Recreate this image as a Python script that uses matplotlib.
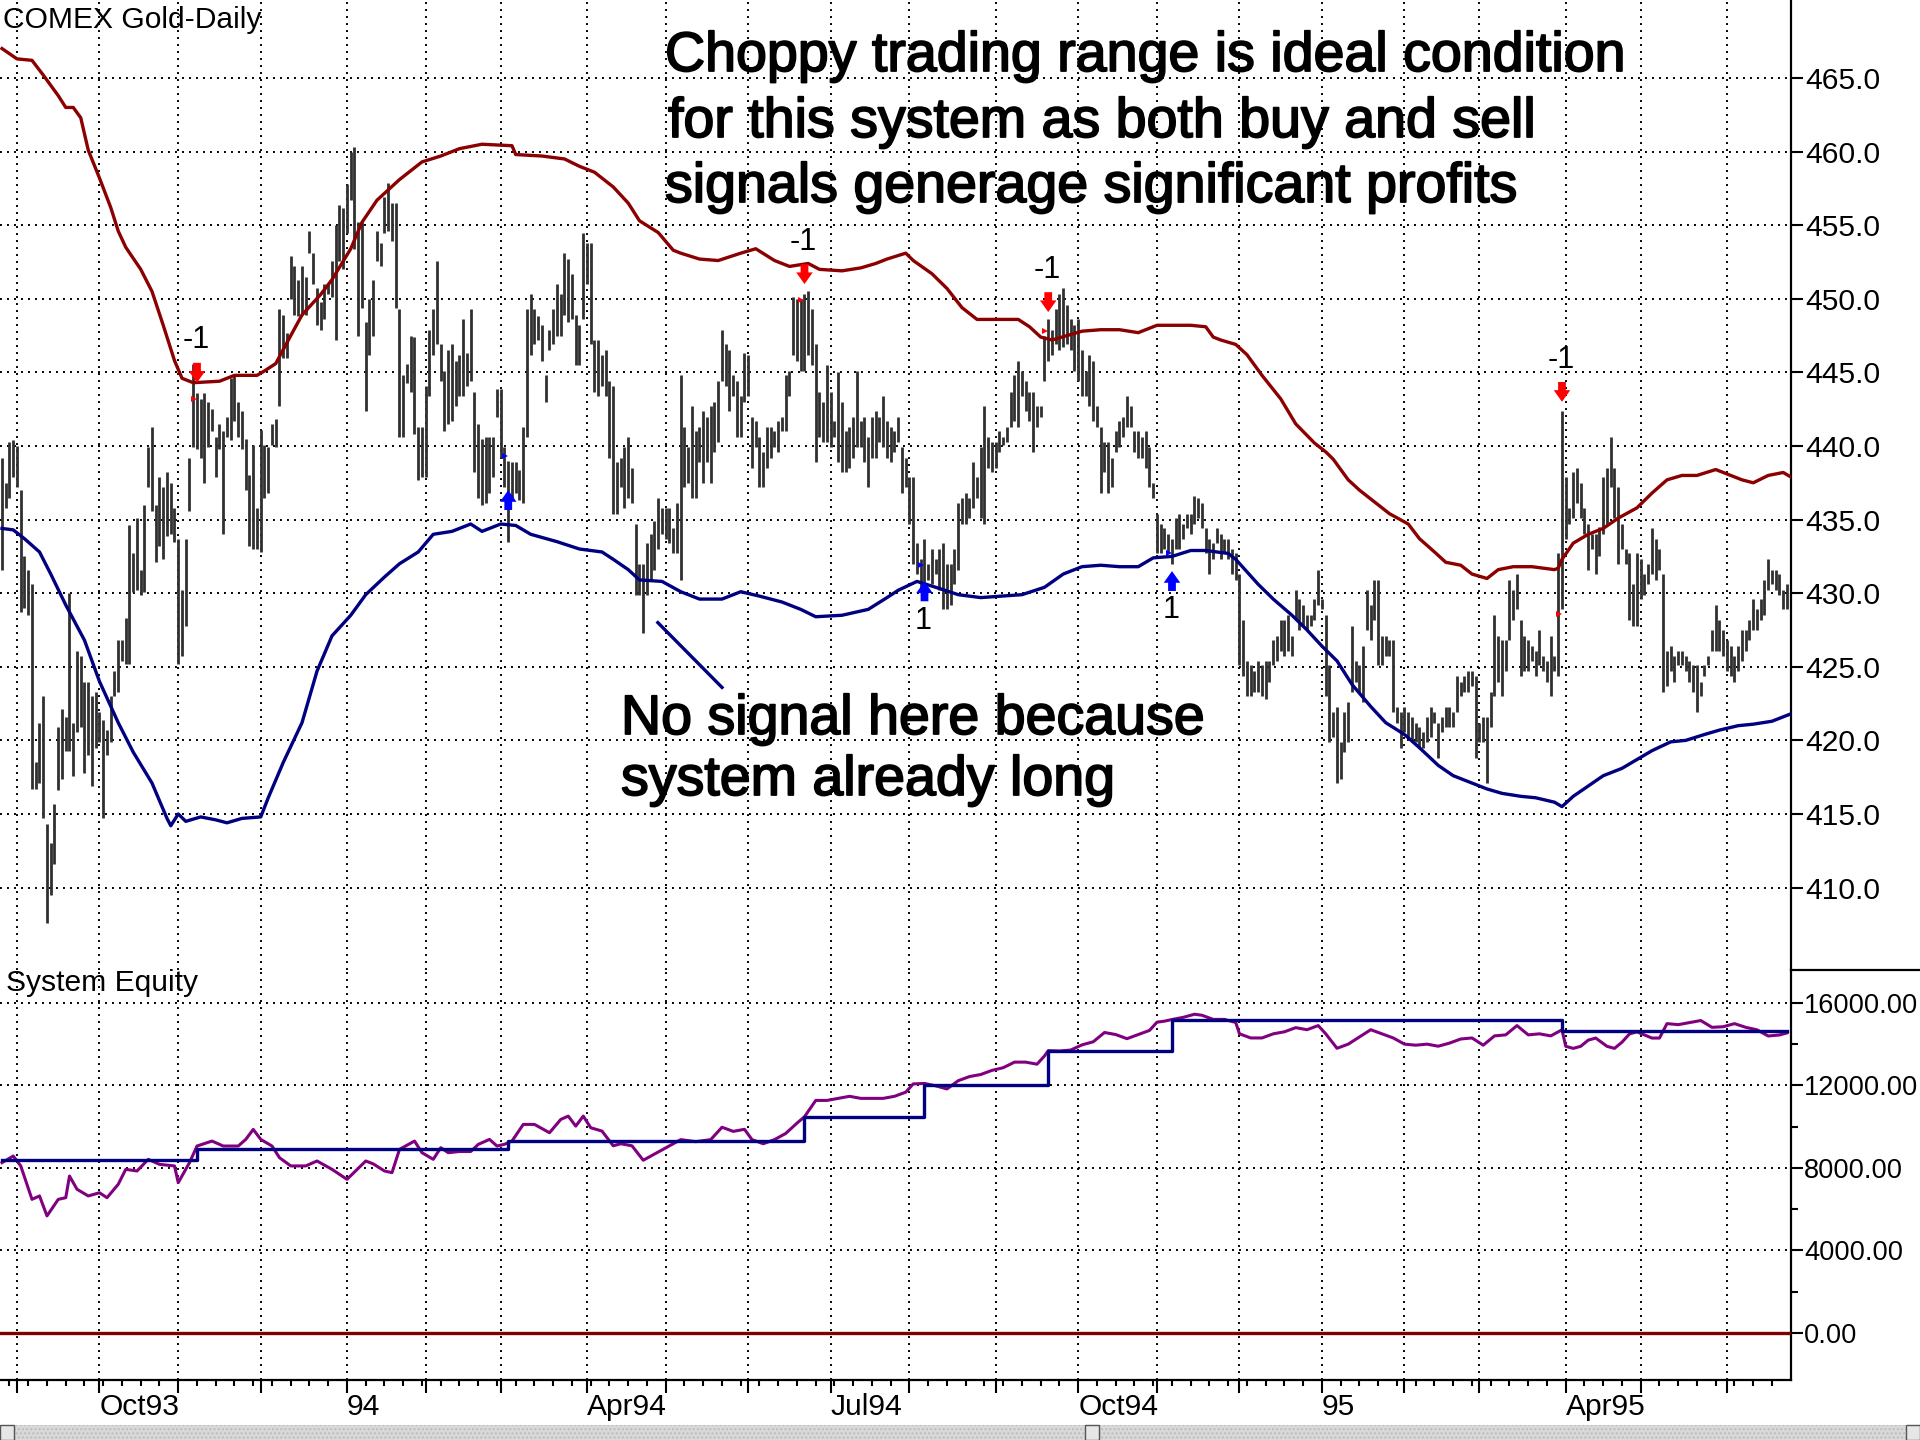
# COMEX gold daily bars with band system signals and system equity panel
import numpy as np
import pandas as pd
import matplotlib
matplotlib.use("Agg")
import matplotlib.pyplot as plt
import matplotlib.patheffects as pe
from matplotlib.lines import Line2D
from matplotlib.patches import Rectangle

plt.rcParams['font.family'] = ['Liberation Sans', 'DejaVu Sans']

start_date = '1993-08-26'

# daily highs and lows, one row per month
high = [
    439.2, 437.5, 440.3, 440.4,
    440.0, 437.0, 432.5, 431.6, 430.6, 418.5, 421.2, 423.0, 414.3, 413.0, 415.7, 420.9, 422.1, 421.6, 430.0, 421.2, 426.1, 425.7, 424.0, 424.0, 423.0, 423.3,
    421.9, 421.4, 420.7, 423.0, 424.7, 426.8, 426.8, 428.3, 434.6, 432.7, 435.1, 431.6, 436.0, 439.9, 441.3, 436.0, 437.9, 437.2, 438.2, 437.5, 435.8,
    433.7, 430.2, 433.7, 439.2, 445.6, 443.6, 443.2, 443.6, 443.0, 442.5, 440.6, 441.5, 441.0, 442.0, 444.6, 444.8, 443.0, 442.4, 440.5, 438.0, 440.1, 435.8,
    441.1, 440.1, 439.9, 441.5, 441.8, 449.3, 448.9, 447.7, 452.9, 452.2, 451.3, 452.2, 451.5, 454.6, 453.1, 450.7, 449.8, 451.0, 451.0, 452.6, 455.0, 456.4, 456.2,
    457.8, 460.0, 460.3, 455.2, 455.2, 448.4, 450.0, 451.3, 454.6, 453.8, 456.9, 457.9, 456.5, 456.5, 449.3, 444.8, 445.6, 447.5, 447.4, 441.3, 441.3,
    444.1, 447.9, 449.3, 452.6, 446.9, 445.1, 446.5, 446.9, 445.8, 446.2, 448.6, 446.3, 449.3, 443.7, 441.5, 440.5, 440.6, 440.6, 440.6, 443.9,
    443.9, 439.9, 439.0, 438.9, 438.9, 438.4, 441.3, 449.3, 450.3, 449.3, 448.8, 448.2, 444.8, 447.9, 449.3, 451.0, 450.3, 453.1, 452.7, 451.7, 448.9, 448.2, 454.5,
    453.8, 453.8, 447.2, 447.2, 446.2, 446.5, 444.4, 444.1, 438.9, 439.2, 439.9, 440.6, 438.5, 434.7, 432.0, 432.0, 433.4, 434.0, 434.9, 436.5, 435.8,
    435.8, 435.8, 434.4, 436.1, 444.8, 441.3, 439.9, 442.7, 441.0, 441.3, 442.4, 442.0, 442.7, 443.0, 444.4, 447.9, 446.9, 446.5, 444.8, 444.4, 443.4, 446.3,
    446.2, 442.0, 441.7, 440.6, 439.6, 441.3, 441.3, 441.0, 441.7, 442.0, 444.8, 445.1, 450.1, 450.0, 450.0, 450.3, 450.5, 449.3, 446.9, 443.7, 443.0, 445.5,
    443.7, 441.7, 445.0, 443.0, 441.0, 441.3, 442.0, 445.1, 441.7, 442.0, 440.6, 442.0, 442.4, 442.0, 443.4, 441.7, 441.3, 441.0, 442.0, 439.9, 439.2,
    437.9, 437.9, 433.4, 432.3, 433.7, 432.0, 433.0, 432.3, 433.0, 433.4, 432.0, 432.0, 433.0, 436.1, 436.5, 436.8, 436.5, 438.9, 437.9, 439.9, 442.7, 440.6, 440.3,
    440.3, 441.0, 440.6, 441.3, 443.7, 444.8, 445.8, 445.1, 444.4, 443.7, 443.7, 442.7, 442.7, 447.5, 448.6, 447.9, 449.3, 450.3, 450.7, 449.6, 448.6, 448.2,
    448.6, 446.5, 445.1, 446.2, 445.8, 442.7, 441.3, 440.3, 440.3, 439.2, 441.0, 441.7, 442.0, 443.4, 442.7, 441.0, 441.0, 440.6, 441.0, 439.9, 437.5,
    435.4, 434.7, 434.4, 434.0, 433.7, 435.1, 435.4, 434.7, 435.4, 435.4, 436.6, 436.5, 436.1, 434.4, 433.7, 433.4, 434.4, 434.0, 433.7, 433.7, 433.0, 432.7,
    431.3, 428.2, 425.4, 425.1, 424.7, 425.4, 425.1, 425.4, 425.4, 426.8, 427.1, 428.2, 428.2, 428.5, 427.1, 430.2, 429.6, 429.2, 428.5, 428.5, 429.6, 431.6,
    429.6, 428.5, 425.1, 421.9, 422.3, 419.9, 421.9, 422.6, 427.8, 425.4, 425.1, 426.4, 430.2, 429.2, 430.9, 430.9, 427.1, 427.1, 426.8, 426.8, 422.3, 421.9,
    422.3, 421.9, 421.6, 421.2, 420.9, 420.6, 421.6, 422.3, 421.9, 421.2, 421.6, 422.3, 422.3, 421.9, 424.4, 424.0, 424.4, 424.7, 424.7, 424.4,
    421.2, 421.6, 421.6, 423.3, 428.5, 427.1, 426.8, 426.8, 430.9, 430.2, 431.3, 428.2, 427.1, 426.8, 426.4, 426.1, 427.5, 425.7, 425.4, 427.1, 425.7, 432.7, 442.4,
    437.9, 435.8, 438.2, 438.5, 437.5, 435.8, 434.7, 434.0, 434.0, 434.5, 437.9, 438.5, 440.6, 438.5, 437.2, 434.7, 433.0, 432.7, 430.6, 432.7,
    432.3, 431.3, 432.0, 434.4, 433.7, 433.0, 431.3, 426.1, 426.4, 425.7, 426.1, 426.1, 425.7, 425.4, 425.1, 425.1, 424.0, 425.1, 425.7, 427.5, 429.2, 428.2, 427.5,
    426.8, 426.4, 425.7, 426.4, 427.5, 427.5, 428.2, 429.6, 428.9, 429.6, 430.9, 432.3, 431.6, 431.6, 431.3, 430.2, 430.6,
]
low = [
    431.6, 435.8, 436.5, 437.9,
    437.2, 428.7, 429.0, 428.5, 416.7, 416.7, 417.1, 414.7, 407.6, 409.5, 411.6, 416.6, 417.4, 419.3, 419.3, 417.6, 420.6, 420.9, 417.8, 419.0, 416.9, 419.5,
    419.9, 414.7, 419.0, 419.9, 423.0, 423.3, 425.4, 425.2, 425.2, 430.1, 430.2, 429.9, 430.1, 437.2, 435.6, 432.1, 433.2, 432.3, 433.9, 434.0, 433.5,
    425.2, 425.7, 427.8, 435.6, 439.9, 439.8, 439.2, 437.5, 439.9, 441.0, 437.9, 439.8, 434.0, 440.6, 440.4, 441.7, 440.6, 439.8, 437.0, 433.2, 433.0, 433.0,
    432.8, 436.5, 436.8, 440.1, 439.9, 442.7, 446.0, 446.0, 450.0, 448.9, 448.8, 448.9, 448.9, 453.1, 451.0, 448.2, 447.9, 448.6, 450.3, 450.1, 447.2, 452.6, 452.0,
    454.5, 456.7, 453.4, 447.5, 449.4, 442.4, 446.2, 447.5, 452.6, 452.2, 454.5, 454.6, 453.9, 449.4, 440.6, 440.6, 444.3, 443.7, 440.8, 437.7, 437.9,
    437.9, 443.4, 446.2, 446.9, 444.4, 441.0, 441.5, 441.7, 442.7, 443.4, 443.4, 444.1, 444.4, 438.2, 436.5, 436.0, 436.1, 436.8, 437.9, 442.0,
    439.2, 437.2, 433.5, 436.5, 436.8, 436.3, 436.1, 440.6, 446.2, 446.9, 447.2, 445.8, 443.0, 446.5, 446.9, 447.5, 447.5, 448.9, 448.4, 448.6, 445.5, 445.5, 448.6,
    451.0, 446.9, 443.7, 443.4, 444.1, 443.4, 439.2, 435.4, 435.4, 437.2, 435.8, 436.5, 436.1, 429.9, 429.9, 427.3, 429.9, 430.9, 431.6, 433.0, 434.0,
    433.7, 433.4, 432.7, 432.7, 430.9, 437.2, 437.5, 436.5, 436.5, 438.9, 437.5, 438.9, 437.5, 439.6, 440.3, 444.4, 444.1, 442.4, 443.4, 440.6, 440.6, 443.0,
    443.4, 438.5, 439.9, 437.2, 437.2, 438.5, 439.2, 439.9, 439.6, 441.0, 441.0, 443.4, 446.2, 445.8, 445.1, 445.1, 446.2, 445.5, 438.9, 440.6, 440.3, 440.3,
    439.9, 440.6, 438.9, 438.2, 438.2, 438.5, 439.2, 439.9, 439.9, 438.9, 437.2, 439.2, 439.2, 440.3, 439.9, 439.2, 438.9, 439.6, 440.3, 436.8, 437.2,
    434.7, 432.0, 431.3, 430.2, 430.2, 430.9, 430.6, 431.3, 430.2, 428.9, 428.9, 429.2, 430.6, 431.6, 434.7, 434.7, 435.1, 435.8, 436.5, 435.1, 434.7, 438.5, 438.2,
    438.5, 439.6, 440.1, 440.3, 441.3, 441.7, 441.3, 443.4, 442.4, 441.7, 439.6, 441.3, 442.0, 444.4, 445.8, 446.2, 446.9, 446.5, 446.7, 446.9, 446.5, 445.1,
    444.4, 443.4, 443.4, 442.7, 441.7, 441.3, 436.8, 438.2, 436.8, 437.2, 439.6, 439.9, 440.6, 441.3, 441.3, 439.6, 439.2, 439.2, 438.5, 437.2, 436.5,
    432.7, 432.7, 433.0, 432.7, 432.0, 433.0, 433.0, 433.7, 434.4, 434.0, 434.7, 435.1, 434.4, 432.7, 431.3, 432.3, 433.4, 432.3, 432.7, 432.3, 431.3, 430.9,
    425.1, 424.4, 423.0, 423.0, 423.3, 423.3, 423.0, 422.8, 424.0, 425.1, 425.4, 426.1, 425.7, 426.1, 425.7, 428.2, 427.5, 427.8, 427.5, 427.8, 428.2, 429.2,
    428.9, 423.0, 419.9, 420.2, 417.1, 417.4, 419.2, 419.9, 423.3, 424.0, 423.3, 422.6, 427.5, 426.8, 428.2, 425.1, 425.1, 425.7, 425.7, 421.9, 421.2, 419.5,
    420.6, 420.2, 419.9, 419.9, 419.5, 419.5, 419.9, 420.2, 421.2, 418.8, 420.6, 420.9, 420.9, 420.9, 421.9, 423.0, 423.3, 423.3, 423.7, 418.8,
    419.9, 419.9, 417.1, 420.9, 423.0, 424.0, 423.0, 424.7, 426.8, 428.2, 428.9, 424.4, 424.7, 424.7, 425.4, 424.4, 425.1, 424.7, 424.0, 423.0, 424.7, 424.4, 428.9,
    433.7, 434.7, 435.1, 436.1, 435.1, 434.0, 431.6, 433.0, 431.3, 432.5, 434.0, 434.7, 437.2, 435.1, 432.0, 433.0, 432.0, 428.2, 427.8, 427.8,
    429.6, 429.9, 430.6, 431.3, 430.9, 431.6, 423.3, 423.7, 424.7, 424.0, 425.1, 425.1, 424.7, 424.0, 423.3, 421.9, 423.0, 424.4, 425.1, 426.1, 426.1, 426.1, 425.7,
    424.7, 424.4, 424.0, 424.7, 425.4, 426.1, 426.8, 427.5, 427.5, 428.2, 428.5, 430.2, 430.6, 430.2, 429.9, 428.9, 428.9,
]

# upper band (dark red) and lower band (navy), sampled on bar numbers
upper_idx = [0, 4, 8, 11, 15, 17, 19, 21, 23, 26, 29, 31, 33, 37, 40, 43, 46, 48, 51, 58, 62, 68, 70, 73, 77,
             80, 85, 88, 93, 96, 100, 106, 112, 117, 122, 128, 136, 137, 144, 150, 154, 158, 163, 167, 170,
             175, 179, 181, 186, 191, 197, 201, 206, 210, 215, 218, 224, 229, 233, 236, 241, 243, 248, 252,
             256, 260, 265, 271, 274, 277, 280, 284, 288, 293, 298, 303, 308, 312, 317, 321, 323, 325, 329,
             332, 336, 341, 345, 350, 353, 355, 359, 362, 367, 370, 375, 378, 382, 385, 389, 392, 396, 399,
             403, 408, 414, 415, 416, 419, 423, 427, 431, 436, 440, 444, 448, 452, 457, 461, 464, 467, 471, 475, 477]
upper_val = [467.0, 466.3, 466.2, 465.2, 463.8, 463.0, 463.0, 462.3, 460.1, 458.2, 456.2, 454.6, 453.5, 452.0, 450.5,
             448.2, 445.8, 444.6, 444.3, 444.4, 444.8, 444.8, 445.1, 445.6, 447.5, 448.9, 450.3, 451.3, 453.4, 455.2,
             456.7, 458.1, 459.3, 459.7, 460.2, 460.5, 460.4, 459.8, 459.7, 459.5, 459.0, 458.6, 457.6, 456.5, 455.3,
             454.5, 453.3, 453.1, 452.7, 452.6, 453.1, 453.4, 452.6, 452.2, 452.4, 452.0, 451.9, 452.1, 452.4, 452.7,
             453.1, 452.6, 451.7, 450.7, 449.4, 448.6, 448.6, 448.6, 448.1, 447.4, 447.2, 447.5, 447.8, 447.9, 447.9,
             447.7, 448.2, 448.2, 448.2, 448.1, 447.4, 447.2, 446.9, 446.2, 444.8, 443.2, 441.5, 440.2, 439.6, 439.1,
             437.7, 437.0, 436.0, 435.4, 434.7, 433.7, 432.8, 432.1, 431.9, 431.3, 431.0, 431.6, 431.8, 431.8, 431.6,
             431.7, 432.3, 433.4, 434.0, 434.4, 435.1, 435.8, 436.8, 437.7, 438.0, 438.0, 438.4, 438.0, 437.7, 437.5,
             438.0, 438.2, 437.9]
lower_idx = [0, 3, 6, 10, 13, 17, 22, 26, 31, 35, 40, 44, 45, 47, 49, 53, 57, 60, 64, 69, 71, 75, 80, 84, 88,
             93, 97, 102, 106, 111, 115, 120, 125, 128, 133, 137, 141, 148, 154, 160, 163, 167, 170, 176, 181,
             186, 192, 197, 202, 208, 213, 217, 224, 231, 236, 239, 244, 249, 255, 261, 272, 278, 283, 288, 293,
             298, 303, 307, 312, 317, 321, 327, 329, 335, 339, 344, 348, 352, 356, 360, 365, 369, 374, 378, 383,
             387, 392, 396, 400, 405, 409, 414, 416, 419, 423, 427, 432, 436, 440, 445, 449, 454, 458, 463, 467,
             472, 477]
lower_val = [434.4, 434.3, 433.7, 432.8, 431.3, 429.2, 426.8, 424.0, 421.2, 419.2, 417.1, 414.7, 414.2, 415.0, 414.5,
             414.8, 414.6, 414.4, 414.7, 414.8, 416.1, 418.5, 421.2, 424.7, 427.1, 428.5, 429.9, 431.1, 432.0, 432.8,
             434.0, 434.2, 434.7, 434.2, 434.7, 434.6, 434.0, 433.5, 433.0, 432.8, 432.3, 431.6, 430.9, 430.8, 430.1,
             429.6, 429.6, 430.1, 429.8, 429.4, 428.9, 428.4, 428.5, 428.9, 429.7, 430.2, 430.8, 430.4, 429.9, 429.7,
             429.9, 430.4, 431.3, 431.8, 431.9, 431.8, 431.8, 432.4, 432.5, 432.9, 432.9, 432.7, 432.3, 430.6, 429.6,
             428.5, 427.5, 426.4, 425.4, 423.8, 422.3, 421.2, 420.4, 419.5, 418.3, 417.6, 417.1, 416.7, 416.4, 416.2,
             416.1, 415.8, 415.5, 416.2, 416.9, 417.6, 418.1, 418.7, 419.3, 419.9, 420.0, 420.4, 420.7, 421.0, 421.1,
             421.3, 421.8]

# system signals: bar number, entry price (small triangle) and arrow tip price
sell_idx = [52, 214, 279, 416]
sell_entry = [443.2, 449.9, 447.8, 428.6]
sell_arrow = [444.3, 451.0, 449.1, 443.0]
buy_idx = [135, 246, 312]
buy_entry = [439.3, 431.9, 432.7]
buy_arrow = [437.0, 430.8, 431.5]
buy_text = ['', '1', '1']

# open-trade equity (purple) and closed-trade equity (navy step)
eq_idx = [0, 3, 5, 8, 10, 12, 15, 17, 18, 20, 23, 26, 28, 31, 33, 36, 39, 42, 46, 47, 50, 52, 56, 59, 63,
          65, 67, 69, 72, 74, 77, 81, 84, 88, 92, 97, 99, 102, 104, 106, 110, 112, 115, 117, 119, 122, 125,
          127, 130, 132, 134, 136, 139, 142, 146, 149, 151, 153, 155, 157, 160, 163, 165, 168, 171, 173, 176,
          181, 185, 189, 192, 195, 198, 200, 203, 206, 209, 212, 214, 217, 220, 223, 226, 229, 232, 235, 238,
          241, 243, 246, 249, 252, 255, 258, 261, 264, 267, 270, 273, 276, 278, 279, 282, 285, 288, 291, 294,
          297, 300, 303, 306, 308, 310, 312, 315, 318, 320, 323, 326, 329, 330, 333, 336, 339, 342, 345, 348,
          351, 353, 356, 359, 362, 365, 368, 371, 374, 377, 380, 383, 386, 389, 392, 395, 398, 401, 404, 407,
          410, 413, 416, 417, 419, 421, 423, 425, 428, 430, 432, 434, 436, 438, 440, 442, 444, 447, 450, 453,
          456, 459, 462, 465, 468, 471, 474, 476]
eq_val = [8260, 8580, 8100, 6480, 6645, 5677, 6480, 6560, 7610, 6970, 6645, 6800, 6560, 7210, 7935, 7855, 8420,
          8177, 8100, 7290, 8260, 9065, 9306, 9065, 9065, 9387, 9871, 9387, 9065, 8500, 8100, 8100, 8340, 7935,
          7450, 8340, 8200, 7855, 7774, 8903, 9306, 8742, 8420, 8984, 8742, 8800, 8800, 9145, 9387, 9065, 9150,
          9306, 10113, 10113, 9710, 10355, 10516, 10032, 10516, 9952, 9790, 9076, 9176, 9076, 8376, 8576, 8876,
          9376, 9276, 9376, 9976, 9776, 9876, 9376, 9176, 9376, 9676, 10176, 10486, 11276, 11276, 11376, 11476,
          11376, 11376, 11376, 11476, 11676, 12076, 12100, 11983, 11833, 12233, 12433, 12533, 12733, 12863, 13133,
          13133, 13033, 13433, 13690, 13670, 13720, 13970, 14120, 14570, 14470, 14270, 14470, 14670, 15070, 15120,
          15200, 15305, 15455, 15405, 15205, 15205, 15055, 14505, 14305, 14305, 14505, 14605, 14805, 14705, 14905,
          14505, 13805, 14005, 14355, 14705, 14505, 14305, 14005, 13955, 14005, 13905, 14055, 14255, 14305, 13955,
          14405, 14455, 14905, 14455, 14505, 14405, 14700, 13900, 13800, 13900, 14200, 14300, 13900, 13800, 14100,
          14500, 14600, 14450, 14300, 14300, 15000, 14950, 15050, 15150, 14820, 14850, 15000, 14820, 14700, 14400,
          14450, 14550]
trade_idx = [0, 52, 135, 214, 246, 279, 312, 416, 476]
closed_eq = [8390, 8935, 9306, 10486, 12023, 13690, 15175, 14640, 14640]

W, H = 1920, 1440
PLOT_R = 1791
SEP_Y = 970
BOT_Y = 1380
FS = 21.6
RED = '#8b0000'
NAVY = '#000080'
GRID = dict(color='black', linestyle=(0, (1, 2.6)), linewidth=1.4)

dates = pd.bdate_range(start_date, periods=len(high))
x = np.arange(len(high))
new_month = np.r_[False, dates.month[1:] != dates.month[:-1]]
mondays = (dates.weekday == 0) & ~new_month
month_pos = x[new_month]
month_lab = []
for d in dates[new_month]:
    if d.month == 1:
        month_lab.append(d.strftime('%y'))
    elif d.month in (4, 7, 10):
        month_lab.append(d.strftime('%b%y'))
    else:
        month_lab.append('')

fig = plt.figure(figsize=(W / 100, H / 100), dpi=100)
ax1 = fig.add_axes([0, 1 - SEP_Y / H, PLOT_R / W, SEP_Y / H])
ax2 = fig.add_axes([0, 1 - BOT_Y / H, PLOT_R / W, (BOT_Y - SEP_Y) / H])
xlim = (-0.533, 477.07)

# ---- price panel
ax1.vlines(x, low, high, color='#303030', lw=2.0, zorder=3)
ax1.plot(upper_idx, upper_val, color=RED, lw=2.4, zorder=4)
ax1.plot(lower_idx, lower_val, color=NAVY, lw=2.4, zorder=4)

arrow_len = 1.35
astyle = 'simple,head_width=0.85,head_length=0.6,tail_width=0.4'
for i, e, t in zip(sell_idx, sell_entry, sell_arrow):
    ax1.annotate('', xy=(i, t), xytext=(i, t + arrow_len),
                 arrowprops=dict(arrowstyle=astyle, color='#ff0000', lw=0, shrinkA=0, shrinkB=0,
                                 mutation_scale=14), zorder=6)
    ax1.plot(i - 0.9, e, marker='>', color='#ff0000', ms=5, mew=0, zorder=6)
    ax1.text(i - 0.3, t + arrow_len + 0.5, '-1', ha='center', va='bottom', fontsize=22, zorder=6)
for i, e, t, s in zip(buy_idx, buy_entry, buy_arrow, buy_text):
    ax1.annotate('', xy=(i, t), xytext=(i, t - arrow_len),
                 arrowprops=dict(arrowstyle=astyle, color='#0000ff', lw=0, shrinkA=0, shrinkB=0,
                                 mutation_scale=14), zorder=6)
    ax1.plot(i - 0.9, e, marker='>', color='#0000ff', ms=5, mew=0, zorder=6)
    if s:
        ax1.text(i - 0.3, t - arrow_len - 0.3, s, ha='center', va='top', fontsize=22, zorder=6)

ax1.plot([174.9, 192.0], [428.0, 423.6], color=NAVY, lw=2.4, zorder=5)

ax1.set_xlim(*xlim)
ax1.set_ylim(404.40, 470.30)
ax1.set_xticks(month_pos)
ax1.set_yticks(np.arange(410, 466, 5))
ax1.yaxis.set_major_formatter(matplotlib.ticker.FormatStrFormatter('%.1f'))
ax1.yaxis.tick_right()
ax1.tick_params(axis='x', length=0, labelbottom=False)
ax1.tick_params(axis='y', length=8.5, width=1.5, pad=1.5, labelsize=FS, direction='out')
ax1.grid(True, **GRID)
ax1.set_axisbelow(True)
for s in ['left', 'top', 'bottom']:
    ax1.spines[s].set_visible(False)
ax1.spines['right'].set_linewidth(1.6)

# ---- equity panel
ax2.plot(eq_idx, eq_val, color='#800080', lw=2.2, zorder=3)
ax2.step(trade_idx, closed_eq, where='post', color=NAVY, lw=2.4, zorder=4)
ax2.axhline(0, color='#800000', lw=2.4, zorder=4)
ax2.set_xlim(*xlim)
ax2.set_ylim(-2279, 17600)
ax2.set_yticks(np.arange(0, 16001, 4000))
ax2.set_yticks(np.arange(2000, 16001, 4000), minor=True)
ax2.yaxis.set_major_formatter(matplotlib.ticker.FormatStrFormatter('%.2f'))
ax2.yaxis.tick_right()
ax2.tick_params(axis='y', which='major', length=8.5, width=1.5, pad=1.0, labelsize=19.6, direction='out')
ax2.tick_params(axis='y', which='minor', length=5, width=1.5, direction='out')
ax2.set_xticks(month_pos)
ax2.set_xticklabels(month_lab)
ax2.set_xticks(x[mondays], minor=True)
ax2.tick_params(axis='x', which='major', length=9, width=1.5, pad=0.5, labelsize=FS, direction='out')
ax2.tick_params(axis='x', which='minor', length=4.5, width=1.5, direction='out')
for lab in ax2.get_xticklabels():
    lab.set_horizontalalignment('left')
ax2.grid(True, which='major', **GRID)
ax2.set_axisbelow(True)
for s in ['left', 'top']:
    ax2.spines[s].set_visible(False)
ax2.spines['right'].set_linewidth(1.6)
ax2.spines['bottom'].set_linewidth(1.6)

# separator in the scale area
fig.add_artist(Line2D([PLOT_R / W, 1], [1 - SEP_Y / H] * 2, transform=fig.transFigure, color='black', lw=1.6))

# titles and notes
fig.text(3 / W, 1 - 28 / H, 'COMEX Gold-Daily', fontsize=FS, va='baseline')
fig.text(6 / W, 1 - 991 / H, 'System Equity', fontsize=FS, va='baseline')
notes = [('Choppy trading range is ideal condition', 665, 71),
         ('for this system as both buy and sell', 668, 137),
         ('signals generage significant profits', 665, 202),
         ('No signal here because', 621, 734),
         ('system already long', 621, 795)]
heavy = [pe.withStroke(linewidth=1.3, foreground='black')]
for txt, px, py in notes:
    fig.text(px / W, 1 - py / H, txt, fontsize=40, va='baseline', zorder=10, path_effects=heavy)

# scroll bar strip at the bottom
fig.add_artist(Rectangle((0, 0), 1, 15 / H, transform=fig.transFigure, facecolor='#d9d9d9',
                         edgecolor='#bcbcbc', hatch='....', lw=0))
for bx in (0, 1085, 1906):
    fig.add_artist(Rectangle((bx / W, 0), 14 / W, 15 / H, transform=fig.transFigure,
                             facecolor='#e6e6e6', edgecolor='#555555', lw=1))

fig.savefig('out.png', dpi=100, facecolor='white')
